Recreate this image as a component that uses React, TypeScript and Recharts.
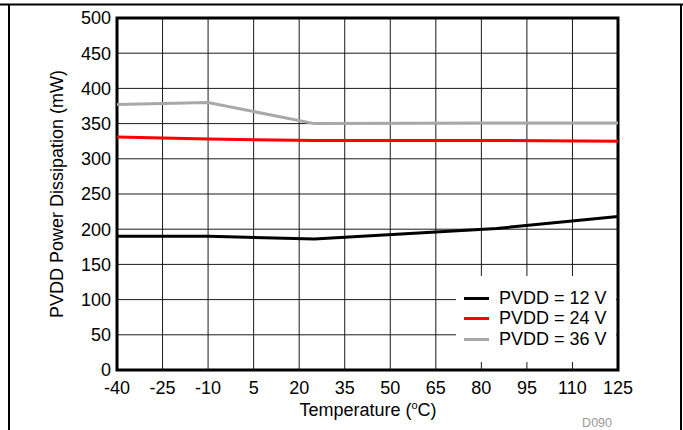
import React from "react";
import {
  LineChart,
  Line,
  XAxis,
  YAxis,
  CartesianGrid,
  Legend,
  ReferenceArea,
} from "recharts";

const temperatures = [-40, -10, 25, 85, 125];
const pvdd12 = [190, 190, 186, 201, 218];
const pvdd24 = [331, 328, 326, 326, 325];
const pvdd36 = [377, 380, 350, 351, 351];

const xTicks = [-40, -25, -10, 5, 20, 35, 50, 65, 80, 95, 110, 125];
const yTicks = [0, 50, 100, 150, 200, 250, 300, 350, 400, 450, 500];

const seriesNames = ["PVDD = 12 V", "PVDD = 24 V", "PVDD = 36 V"];
const seriesColors = ["#000000", "#ff0000", "#a8a8a8"];

const data = temperatures.map((t, i) => ({
  t,
  s12: pvdd12[i],
  s24: pvdd24[i],
  s36: pvdd36[i],
}));

const FONT = "'Liberation Sans', Arial, sans-serif";

const LegendContent = () => (
  <div
    style={{
      background: "#fff",
      width: 160,
      height: 86,
      boxSizing: "border-box",
      paddingTop: 12,
      paddingLeft: 8,
      fontFamily: FONT,
      fontSize: 18,
      color: "#000",
    }}
  >
    {seriesNames.map((n, i) => (
      <div
        key={n}
        style={{ display: "flex", alignItems: "center", height: 20.5 }}
      >
        <div
          style={{
            width: 25,
            height: 3,
            background: seriesColors[i],
            marginRight: 10,
          }}
        />
        <span>{n}</span>
      </div>
    ))}
  </div>
);

export default function App() {
  return (
    <div
      style={{
        position: "absolute",
        left: 0,
        top: 0,
        width: 683,
        height: 430,
        background: "#fff",
        overflow: "hidden",
      }}
    >
      <svg
        width={683}
        height={430}
        style={{ position: "absolute", left: 0, top: 0 }}
      >
        <line x1={0} y1={4.5} x2={683} y2={4.5} stroke="#000" strokeWidth={2} />
        <line x1={9} y1={4} x2={9} y2={430} stroke="#000" strokeWidth={2} />
        <line x1={681} y1={4} x2={681} y2={430} stroke="#000" strokeWidth={2} />
        <text
          x={368}
          y={416}
          textAnchor="middle"
          fontFamily={FONT}
          fontSize={18}
          fill="#000"
        >
          Temperature (
          <tspan fontSize={11} dy={-7}>
            o
          </tspan>
          <tspan dy={7}>C)</tspan>
        </text>
        <text
          x={0}
          y={0}
          transform="translate(63,194) rotate(-90)"
          textAnchor="middle"
          fontFamily={FONT}
          fontSize={18}
          fill="#000"
        >
          PVDD Power Dissipation (mW)
        </text>
        <text
          x={612}
          y={427}
          textAnchor="end"
          fontFamily={FONT}
          fontSize={12.5}
          fill="#999"
        >
          D090
        </text>
      </svg>
      <div style={{ position: "absolute", left: 0, top: 0 }}>
        <LineChart
          width={683}
          height={430}
          data={data}
          margin={{ top: 18, right: 65, left: 57, bottom: 20 }}
          style={{ background: "transparent" }}
        >
          <CartesianGrid stroke="#1a1a1a" strokeWidth={1} vertical horizontal />
          <XAxis
            dataKey="t"
            type="number"
            domain={[-40, 125]}
            ticks={xTicks}
            interval={0}
            height={40}
            axisLine={false}
            tickLine={false}
            tick={{ fill: "#000", fontSize: 18, fontFamily: FONT }}
            tickMargin={5}
          />
          <YAxis
            type="number"
            domain={[0, 500]}
            ticks={yTicks}
            interval={0}
            width={60}
            axisLine={false}
            tickLine={false}
            tick={{ fill: "#000", fontSize: 18, fontFamily: FONT }}
            tickMargin={0}
          />
          <Line
            dataKey="s36"
            name={seriesNames[2]}
            stroke={seriesColors[2]}
            strokeWidth={3}
            dot={false}
            isAnimationActive={false}
          />
          <Line
            dataKey="s24"
            name={seriesNames[1]}
            stroke={seriesColors[1]}
            strokeWidth={3}
            dot={false}
            isAnimationActive={false}
          />
          <Line
            dataKey="s12"
            name={seriesNames[0]}
            stroke={seriesColors[0]}
            strokeWidth={3}
            dot={false}
            isAnimationActive={false}
          />
          <Legend
            layout="vertical"
            align="center"
            verticalAlign="middle"
            content={<LegendContent />}
            wrapperStyle={{ left: 456, top: 276, width: 160, height: 86 }}
          />
          <ReferenceArea
            x1={-40}
            x2={125}
            y1={0}
            y2={500}
            fill="none"
            stroke="#000"
            strokeWidth={3}
            ifOverflow="visible"
          />
        </LineChart>
      </div>
    </div>
  );
}
